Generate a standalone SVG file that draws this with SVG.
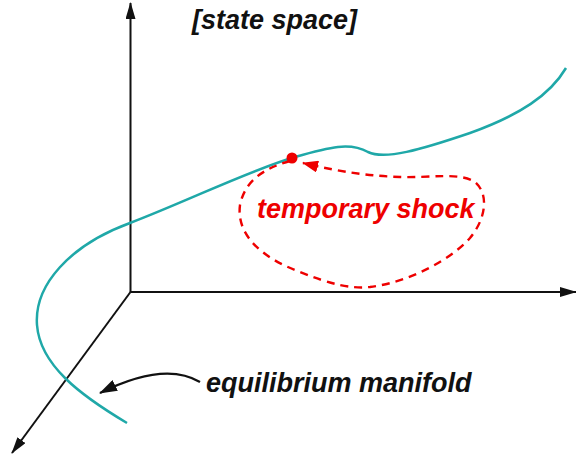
<svg xmlns="http://www.w3.org/2000/svg" width="576" height="462" viewBox="0 0 576 462">
<style>
.axis{stroke:#111;stroke-width:2;fill:none}
.lbl{font-family:"Liberation Sans",Arial,sans-serif;font-weight:bold;font-style:italic;font-size:27px}
</style>
<defs>
<marker id="ah" viewBox="0 0 17 10" refX="16" refY="5" markerWidth="17" markerHeight="10" markerUnits="userSpaceOnUse" orient="auto">
<path d="M0,0 L17,5 L0,10 Z" fill="#111"/>
</marker>
<marker id="bh" viewBox="0 0 18 12" refX="17" refY="6" markerWidth="18" markerHeight="12" markerUnits="userSpaceOnUse" orient="auto">
<path d="M0,0 L18,6 L0,12 Z" fill="#111"/>
</marker>
<marker id="rh" viewBox="0 0 16 12" refX="15" refY="6" markerWidth="16" markerHeight="12" markerUnits="userSpaceOnUse" orient="auto">
<path d="M0,0 L16,6 L0,12 Z" fill="#e00"/>
</marker>
</defs>
<g id="axes">
<line class="axis" x1="130.5" y1="292" x2="130.5" y2="3" marker-end="url(#ah)"/>
<line class="axis" x1="130.5" y1="292" x2="576" y2="292" marker-end="url(#ah)"/>
<line class="axis" x1="130.5" y1="292" x2="12" y2="453" marker-end="url(#ah)"/>
</g>
<g id="manifold">
<path d="M127,423 C80,395 40,365 37,325 C34,285 70,245 130,223 C190,200 250,170 295,157 C330,147 350,142 368,152 C385,160 420,150 470,133 C520,115 550,95 566,68" fill="none" stroke="#1fa8a8" stroke-width="2.5"/>
</g>
<g id="shock">
<path d="M290,161 C265,168 245,180 240,205 C236,235 262,258 300,272 C330,284 350,289 370,287 C410,282 450,260 470,238 C485,220 490,195 475,182 C460,172 430,178 400,177 C370,176 340,172 303,163" fill="none" stroke="#e00" stroke-width="2.4" stroke-dasharray="8,6" marker-end="url(#rh)"/>
<circle cx="292" cy="158" r="5.5" fill="#e00"/>
<text class="lbl" x="257" y="218" fill="#e00">temporary shock</text>
</g>
<g id="labels">
<text class="lbl" x="192" y="29" fill="#111">[state space]</text>
<text class="lbl" x="206" y="392" fill="#111">equilibrium manifold</text>
</g>
<g id="connectors">
<path d="M200,382 C180,370 150,368 100,393" fill="none" stroke="#111" stroke-width="2.2" marker-end="url(#bh)"/>
</g>
</svg>
